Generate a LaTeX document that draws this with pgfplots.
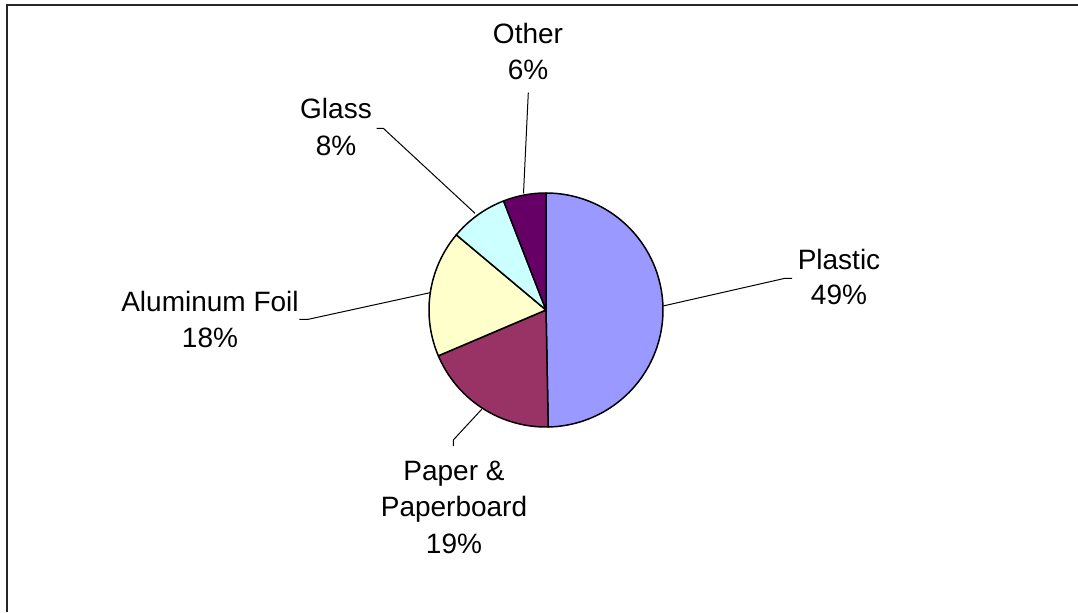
\documentclass[border=0pt]{standalone}
\usepackage{fontspec}
\setmainfont{Liberation Sans}
\usepackage{pgfplots}
\pgfplotsset{compat=1.18}
\definecolor{cPlastic}{HTML}{9999FF}
\definecolor{cPaper}{HTML}{993366}
\definecolor{cAlu}{HTML}{FFFFCC}
\definecolor{cGlass}{HTML}{CCFFFF}
\definecolor{cOther}{HTML}{660066}
% slice: #1 cumulative percent before, #2 percent, #3 colour
\newcommand{\slice}[3]{%
  \pgfmathsetmacro{\aStart}{90-3.6*(#1)}%
  \pgfmathsetmacro{\aEnd}{90-3.6*(#1+#2)}%
  \addplot[fill=#3, draw=black, line width=0.75pt, line join=round,
    domain=\aEnd:\aStart, samples=90, variable=\t]
    ({546+117*cos(\t)},{302+117*sin(\t)}) -- (axis cs:546,302) -- cycle;
}
\newcommand{\lab}[3]{\node[anchor=base, inner sep=0pt, font=\fontsize{14}{18}\selectfont] at (axis cs:#1,#2) {#3};}
\begin{document}
\begin{tikzpicture}
\begin{axis}[
  scale only axis, width=539pt, height=306pt,
  xmin=0, xmax=1078, ymin=0, ymax=612,
  hide axis, clip=true,
]
% frame (top and left edges visible)
\addplot[black!85, line width=1pt] coordinates {(7,0) (7,607) (1078,607)};
% pie slices (shares as drawn): Plastic, Paper & Paperboard, Aluminum Foil, Glass, Other
\slice{0}{49.7}{cPlastic}
\slice{49.7}{18.9}{cPaper}
\slice{68.6}{17.5}{cAlu}
\slice{86.1}{8.0}{cGlass}
\slice{94.1}{5.9}{cOther}
% leader lines
\addplot[black, line width=0.5pt] coordinates {(663,306) (785,333.7) (792,333.7)};
\addplot[black, line width=0.5pt] coordinates {(523.5,418.5) (528.3,519.3)};
\addplot[black, line width=0.5pt] coordinates {(475,398.7) (383.3,483.7) (376.7,483.7)};
\addplot[black, line width=0.5pt] coordinates {(430,319.3) (308.3,292.7) (299.3,292.7)};
\addplot[black, line width=0.5pt] coordinates {(481.7,202.7) (453.3,172) (453.3,166)};
% labels
\lab{839}{342.7}{Plastic}
\lab{839}{307}{49\%}
\lab{528}{568.7}{Other}
\lab{528}{532.7}{6\%}
\lab{336}{493.7}{Glass}
\lab{336}{456}{8\%}
\lab{210}{300.3}{Aluminum Foil}
\lab{210}{264.3}{18\%}
\lab{454}{132}{Paper \&}
\lab{454}{95.3}{Paperboard}
\lab{454}{58.7}{19\%}
\end{axis}
\pgfresetboundingbox
\path (current axis.south west) rectangle (current axis.north east);
\end{tikzpicture}
\end{document}
